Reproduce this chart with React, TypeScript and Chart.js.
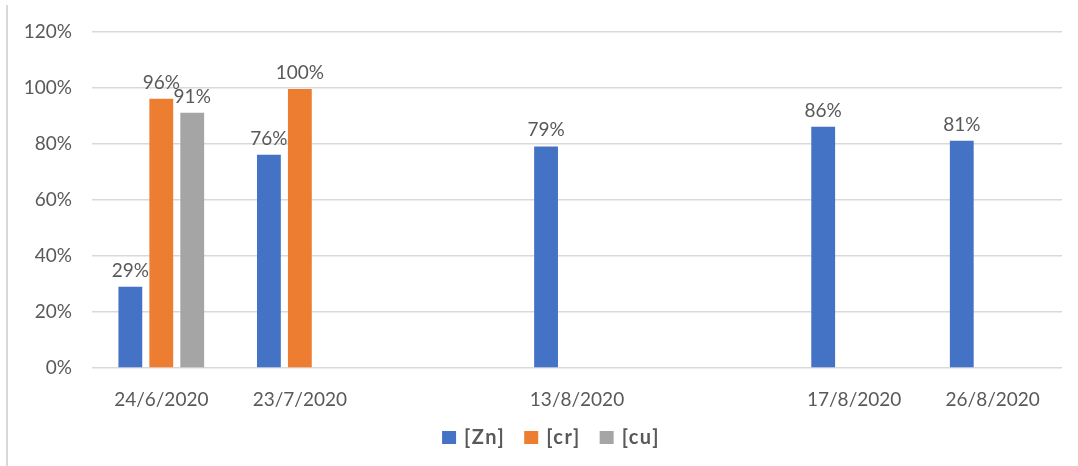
import React, { useEffect, useRef } from "react";
import { Chart, registerables } from "chart.js";

Chart.register(...registerables);

const categories = ["24/6/2020", "23/7/2020", "", "13/8/2020", "", "17/8/2020", "26/8/2020"];
const seriesNames = ["[Zn]", "[cr]", "[cu]"];
const znValues: (number | null)[] = [29, 76, null, 79, null, 86, 81];
const crValues: (number | null)[] = [96, 99.5, null, null, null, null, null];
const cuValues: (number | null)[] = [91, null, null, null, null, null, null];
const seriesColors = ["#4472C4", "#ED7D31", "#A5A5A5"];
const yTicks = [0, 20, 40, 60, 80, 100, 120];

const FONT = "Lato, 'Open Sans', sans-serif";
const TEXT = "#595959";

const frameLine = {
  id: "frameLine",
  beforeDraw(chart: any) {
    const ctx = chart.ctx;
    ctx.save();
    ctx.fillStyle = "#d9d9d9";
    ctx.fillRect(6, 5, 2, chart.height - 5);
    ctx.restore();
  },
};

const dataLabels = {
  id: "dataLabels",
  afterDatasetsDraw(chart: any) {
    const ctx = chart.ctx;
    ctx.save();
    ctx.font = `19px ${FONT}`;
    ctx.fillStyle = TEXT;
    ctx.textAlign = "center";
    ctx.textBaseline = "alphabetic";
    chart.data.datasets.forEach((ds: any, i: number) => {
      const meta = chart.getDatasetMeta(i);
      meta.data.forEach((el: any, j: number) => {
        const v = ds.data[j];
        if (v === null || v === undefined) return;
        ctx.fillText(Math.round(v) + "%", el.x, el.y - 10);
      });
    });
    ctx.restore();
  },
};

const customLegend = {
  id: "customLegend",
  afterDraw(chart: any) {
    const ctx = chart.ctx;
    ctx.save();
    ctx.font = `bold 20px ${FONT}`;
    try {
      (ctx as any).letterSpacing = "1.5px";
    } catch (e) {}
    ctx.textBaseline = "middle";
    ctx.textAlign = "left";
    const box = 14;
    const gap = 8;
    const spacing = 19;
    const items = chart.data.datasets.map((ds: any) => ({
      label: ds.label,
      color: ds.backgroundColor,
      w: ctx.measureText(ds.label).width,
    }));
    const total =
      items.reduce((s: number, it: any) => s + box + gap + it.w, 0) + spacing * (items.length - 1);
    const centerX = 551;
    const cy = 438;
    let x = centerX - total / 2;
    items.forEach((it: any) => {
      ctx.fillStyle = it.color;
      ctx.fillRect(x, cy - 7, box, 13);
      x += box + gap;
      ctx.fillStyle = TEXT;
      ctx.fillText(it.label, x, cy);
      x += it.w + spacing;
    });
    ctx.restore();
  },
};

export default function App() {
  const ref = useRef<HTMLCanvasElement>(null);
  useEffect(() => {
    if (!ref.current) return;
    const values = [znValues, crValues, cuValues];
    const chart = new Chart(ref.current, {
      type: "bar",
      data: {
        labels: categories,
        datasets: seriesNames.map((name, i) => ({
          label: name,
          data: values[i],
          backgroundColor: seriesColors[i],
          borderWidth: 0,
          categoryPercentage: 0.67,
          barPercentage: 0.77,
        })),
      },
      options: {
        animation: false,
        responsive: false,
        devicePixelRatio: 1,
        layout: { padding: { top: 31, right: 16, bottom: 48, left: 0 } },
        plugins: {
          legend: { display: false },
          tooltip: { enabled: false },
        },
        scales: {
          x: {
            grid: { display: false },
            border: { display: false },
            ticks: {
              color: TEXT,
              font: { family: FONT, size: 19 },
              padding: 12,
              maxRotation: 0,
              autoSkip: false,
            },
            afterFit(scale: any) {
              scale.height = 50;
            },
          },
          y: {
            min: 0,
            max: 120,
            afterBuildTicks(scale: any) {
              scale.ticks = yTicks.map((v) => ({ value: v }));
            },
            grid: { color: "#d9d9d9", lineWidth: 1.5, drawTicks: false },
            border: { display: false },
            ticks: {
              color: TEXT,
              font: { family: FONT, size: 19 },
              padding: 20,
              callback: (v: any) => v + "%",
            },
            afterFit(scale: any) {
              scale.width = 92;
            },
          },
        },
      },
      plugins: [frameLine, dataLabels, customLegend],
    });
    return () => chart.destroy();
  }, []);
  return (
    <div style={{ position: "fixed", left: 0, top: 0, width: 1078, height: 466, background: "#fff" }}>
      <canvas ref={ref} width={1078} height={466} style={{ width: 1078, height: 466, display: "block" }} />
    </div>
  );
}
